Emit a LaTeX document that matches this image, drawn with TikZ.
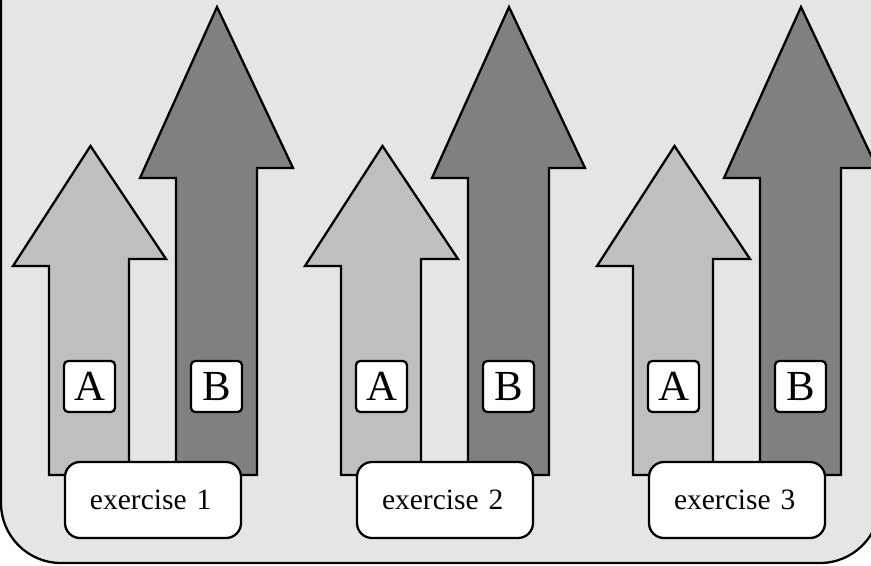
\documentclass[tikz,border=0pt]{standalone}
\usepackage{fontspec}
\setmainfont{Liberation Serif}
\usepackage{tikz}

\begin{document}
\begin{tikzpicture}[
  line width=0.65pt,
  panel/.style={
    draw,
    fill=gray!20,
    rounded corners=6mm
  },
  upA/.style={draw, fill=gray!50},
  upB/.style={draw, fill=gray},
  letter/.style={
    draw,
    fill=white,
    rounded corners=1.2pt,
    minimum size=0.51cm,
    inner sep=0pt,
    font=\fontsize{12.2}{14}\selectfont
  },
  exbox/.style={
    draw,
    fill=white,
    rounded corners=1.5mm,
    minimum height=0.76cm,
    text width=1.26cm,
    inner xsep=0.25cm,
    align=left,
    font=\fontsize{8.4}{10}\selectfont
  }
]

\def\gap{2.92}

% frame of the picture
\clip (0,0) rectangle (8.71,5.65);
\draw[panel] (0.01,0.02) rectangle (8.80,6.30);

% three exercises, each with arrows A and B
\foreach \i in {1,2,3}{
  \pgfmathsetmacro\dx{(\i-1)*\gap}
  \begin{scope}[shift={(\dx,0)}]
    \draw[upA] (0.49,0.90) -- (0.49,2.99) -- (0.13,2.99)
      -- (0.905,4.19) -- (1.66,3.06) -- (1.29,3.06)
      -- (1.29,0.90) -- cycle;
    \draw[upB] (1.76,0.90) -- (1.76,3.87) -- (1.40,3.87)
      -- (2.17,5.58) -- (2.93,3.97) -- (2.57,3.97)
      -- (2.57,0.90) -- cycle;

    \node[letter] (a\i) at (0.895,1.785) {A};
    \node[letter] (b\i) at (2.165,1.785) {B};

    \node[exbox] (ex\i) at (1.53,0.65) {exercise \i};
  \end{scope}
}

\end{tikzpicture}
\end{document}
